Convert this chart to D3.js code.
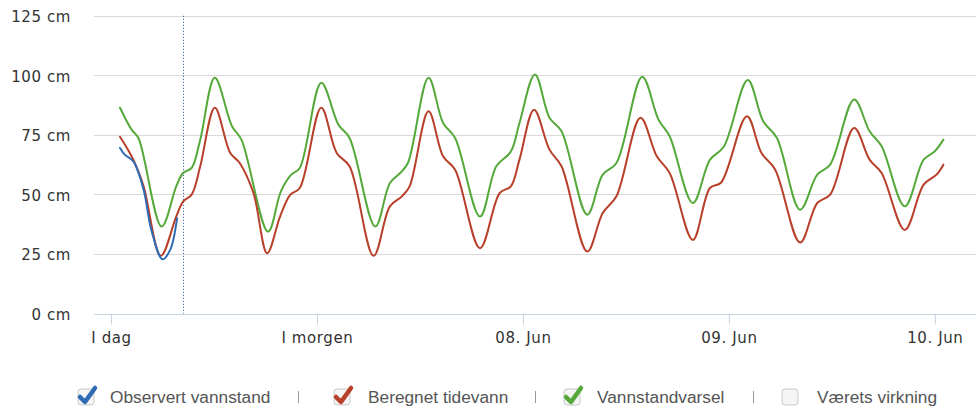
<!DOCTYPE html>
<html>
<head>
<meta charset="utf-8">
<script src="https://cdn.jsdelivr.net/npm/d3@7"></script>
<style>
  html, body { margin: 0; padding: 0; background: #fff; }
  svg { display: block; }
</style>
</head>
<body>
<svg id="chart" width="976" height="406"></svg>
<script>
// ---- DATA (hours since midnight "I dag", centimetres) ----
const xTickHours = [0, 24, 48, 72, 96];
const xTickLabels = ["I dag", "I morgen", "08. Jun", "09. Jun", "10. Jun"];
const yTickValues = [0, 25, 50, 75, 100, 125];
const nowHour = 8.4;

const observedHours  = [1.05, 1.6, 2.6, 3.8, 4.7, 6.0, 6.9, 7.7];
const observedValues = [69.5, 66.7, 63.9, 52, 35.1, 22.8, 26.7, 40];

const tideHours  = [1.05, 2.6, 3.8, 5.8, 7.6, 8.4, 9.4, 10.4, 12.1, 13.9, 15.0, 16.6, 18.2, 19.7, 20.9, 22.0,
                    24.5, 26.3, 27.8, 30.6, 32.5, 33.9, 34.8, 37.0, 38.7, 40.1, 43.0, 45.3, 46.6, 47.6,
                    49.3, 51.1, 52.5, 55.5, 57.3, 58.9, 61.7, 63.6, 65.1, 67.8, 69.8, 71.1,
                    74.1, 75.8, 77.4, 80.3, 82.3, 83.8, 86.6, 88.4, 89.8, 92.5, 94.7, 96.2, 97.0];
const tideValues = [74.2, 64.6, 53.4, 24.2, 40.7, 47, 49.9, 61.8, 86.4, 67.4, 63.2, 50.6, 25.3, 40.7, 49.9, 52.7,
                    86.4, 67.4, 61.8, 24.2, 45, 49.2, 53.4, 84.9, 66, 60.4, 27.4, 50.6, 53.4, 64.6,
                    85.6, 68.8, 61.8, 26, 42.2, 49.2, 82.2, 66, 59, 30.9, 52.7, 55,
                    82.8, 67.4, 60.4, 29.8, 46.4, 49.9, 77.9, 64.6, 59, 35.1, 54.1, 58.3, 62.5];

const forecastHours  = [1.05, 2.4, 3.2, 5.9, 7.6, 8.4, 9.4, 10.4, 12.1, 14.1, 15.2, 18.3, 19.8, 21.0, 22.0,
                        24.5, 26.5, 27.8, 30.8, 32.5, 33.7, 34.6, 37.0, 38.7, 40.1, 43.0, 44.9, 46.6, 47.6,
                        49.4, 51.1, 52.5, 55.5, 57.3, 58.9, 61.9, 63.8, 65.1, 67.8, 69.8, 71.4,
                        74.2, 76.0, 77.6, 80.3, 82.3, 83.8, 86.6, 88.4, 89.8, 92.5, 94.7, 96.0, 97.0];
const forecastValues = [86.4, 77.2, 73.7, 36.5, 53.4, 59, 61.1, 73, 99, 78.6, 73, 34.4, 51.3, 58.3, 61.1,
                        96.9, 79.3, 73.7, 36.5, 54.8, 59, 63.2, 99, 80, 73.7, 40.7, 61.8, 68, 80,
                        100.4, 82.2, 76.5, 41.5, 58.3, 63.2, 99.4, 81.4, 74.4, 46.4, 64.6, 70,
                        98, 80.7, 73.7, 43.6, 58.3, 62.5, 89.9, 76.5, 70.2, 45, 64.6, 68.1, 73];

const legendNames  = ["Observert vannstand", "Beregnet tidevann", "Vannstandvarsel", "Værets virkning"];
const legendColors = ["#2f6cb5", "#b8402a", "#55a93a", null];

// ---- CHART ----
const svg = d3.select("#chart");
const x = d3.scaleLinear().domain([-1.98, 100.8]).range([94, 976]);
const y = d3.scaleLinear().domain([0, 125]).range([313.5, 15.8]);
const axisFont = "DejaVu Sans, Verdana, sans-serif";

// grid
svg.append("g").selectAll("line").data(yTickValues.filter(v => v > 0)).join("line")
  .attr("x1", 94).attr("x2", 976)
  .attr("y1", d => Math.round(y(d)) + 0.5).attr("y2", d => Math.round(y(d)) + 0.5)
  .attr("stroke", "#d9d9d9").attr("stroke-width", 1);

// y labels
svg.append("g").selectAll("text").data(yTickValues).join("text")
  .attr("x", 71).attr("y", d => y(d) + 1)
  .attr("dy", "0.35em").attr("text-anchor", "end")
  .attr("font-family", axisFont).attr("font-size", 15).attr("letter-spacing", 0.6)
  .attr("fill", "#333")
  .text(d => d + " cm");

// x axis
const xAxis = d3.axisBottom(x).tickValues(xTickHours)
  .tickFormat((d, i) => xTickLabels[i]).tickSize(10).tickPadding(8);
const gx = svg.append("g").attr("transform", `translate(0,${Math.round(y(0)) + 0.5})`).call(xAxis);
gx.select(".domain").attr("stroke", "#c5d3e2").attr("d", "M94,0H976");
gx.selectAll(".tick line").attr("stroke", "#c5d3e2");
gx.selectAll(".tick text").attr("font-family", axisFont)
  .attr("font-size", 15).attr("letter-spacing", 0.6).attr("fill", "#333");

// now line
svg.append("line")
  .attr("x1", Math.round(x(nowHour)) + 0.5).attr("x2", Math.round(x(nowHour)) + 0.5)
  .attr("y1", y(125)).attr("y2", y(0))
  .attr("stroke", "#2a4f8c").attr("stroke-width", 1).attr("stroke-dasharray", "1,2");

// lines
const line = d3.line().x(d => x(d[0])).y(d => y(d[1])).curve(d3.curveCatmullRom.alpha(0.5));
const series = [
  { h: forecastHours, v: forecastValues, c: legendColors[2] },
  { h: tideHours, v: tideValues, c: legendColors[1] },
  { h: observedHours, v: observedValues, c: legendColors[0] }
];
series.forEach(s => {
  const pts = s.h.map((h, i) => [h, s.v[i]]);
  svg.append("path").datum(pts).attr("d", line)
    .attr("fill", "none").attr("stroke", s.c).attr("stroke-width", 2)
    .attr("stroke-linejoin", "round").attr("stroke-linecap", "round");
});

// legend
const legendBoxX = [78, 334, 564, 782];
const legendTextX = [110, 368, 597, 817];
const legendSepX = [298, 535, 753];
const ly = 397;
const lg = svg.append("g");
legendNames.forEach((name, i) => {
  const bx = legendBoxX[i];
  lg.append("rect").attr("x", bx).attr("y", ly - 8).attr("width", 16).attr("height", 16)
    .attr("rx", 3).attr("fill", "#f5f5f5").attr("stroke", "#c8c8c8");
  if (legendColors[i]) {
    lg.append("path")
      .attr("d", `M${bx + 2},${ly} L${bx + 7},${ly + 5} L${bx + 17},${ly - 9}`)
      .attr("fill", "none").attr("stroke", legendColors[i]).attr("stroke-width", 4.5)
      .attr("stroke-linecap", "round").attr("stroke-linejoin", "round");
  }
  lg.append("text").attr("x", legendTextX[i]).attr("y", ly).attr("dy", "0.35em")
    .attr("font-family", "Liberation Sans, Arial, sans-serif").attr("font-size", 17.3)
    .attr("fill", "#555").text(name);
});
legendSepX.forEach(sx => {
  lg.append("rect").attr("x", sx).attr("y", ly - 6).attr("width", 1).attr("height", 12)
    .attr("fill", "#999");
});
</script>
</body>
</html>
